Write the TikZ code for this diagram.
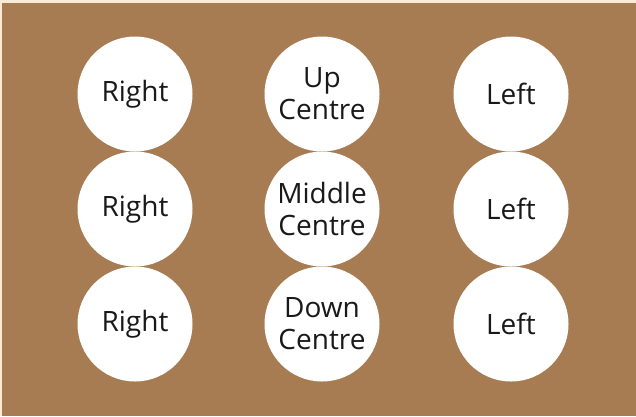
\documentclass[tikz,border=0pt]{standalone}
\usepackage{fontspec}
\setmainfont{Open Sans}
\definecolor{board}{HTML}{A87C52}
\definecolor{paper}{HTML}{FCEBD4}
\tikzset{
  spot/.style={circle,fill=white,minimum size=115pt,inner sep=0pt,
    align=center,font=\fontsize{28}{32}\selectfont,text=black!90}
}

\begin{document}
\begin{tikzpicture}[x=1pt,y=-1pt]
  \path[use as bounding box] (0,0) rectangle (636,416);
  \fill[paper] (0,0) rectangle (636,416);
  \fill[board] (2,3) rectangle (636,416);

  % Three rows of stage positions.
  \foreach \row/\yy/\mid in {up/94/Up,mid/209/Middle,down/324/Down}{
    \node[spot] (right-\row) at (135,\yy) {Right};
    \node[spot] (centre-\row) at (322,\yy) {\mid\\Centre};
    \node[spot] (left-\row) at (511,\yy) {Left};
  }
\end{tikzpicture}
\end{document}
